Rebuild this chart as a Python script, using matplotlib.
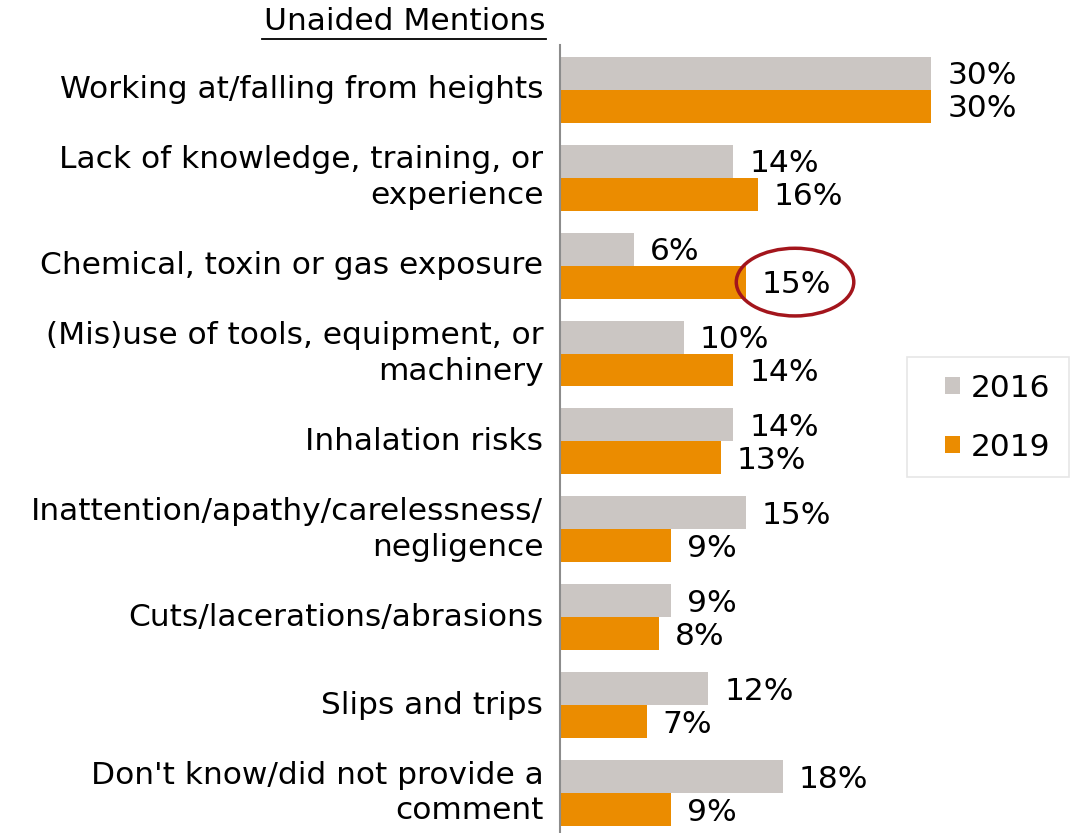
import matplotlib.pyplot as plt
import numpy as np
from matplotlib.patches import Ellipse, Rectangle
from matplotlib.lines import Line2D

categories = [
    "Working at/falling from heights",
    "Lack of knowledge, training, or\nexperience",
    "Chemical, toxin or gas exposure",
    "(Mis)use of tools, equipment, or\nmachinery",
    "Inhalation risks",
    "Inattention/apathy/carelessness/\nnegligence",
    "Cuts/lacerations/abrasions",
    "Slips and trips",
    "Don't know/did not provide a\ncomment",
]
vals_2016 = [30, 14, 6, 10, 14, 15, 9, 12, 18]
vals_2019 = [30, 16, 15, 14, 13, 9, 8, 7, 9]

gray = "#CBC6C3"
orange = "#EB8C00"
fs = 22.5

plt.rcParams["font.family"] = ["DejaVu Sans"]

fig = plt.figure(figsize=(10.7, 8.33), dpi=100)
ax = fig.add_axes([560 / 1070, 0, 510 / 1070, 1 - 45 / 833])

y = np.arange(len(categories))
h = 0.375
b1 = ax.barh(y - h / 2, vals_2016, height=h, color=gray, label="2016")
b2 = ax.barh(y + h / 2, vals_2019, height=h, color=orange, label="2019")

for bars in (b1, b2):
    for rect in bars:
        w = rect.get_width()
        ax.text(w + 1.3, rect.get_y() + rect.get_height() / 2 + 0.03, f"{w:.0f}%",
                va="center", ha="left", fontsize=fs)

# highlight circle around chemical 2019 value
ax.add_patch(Ellipse((vals_2019[2] + 4.0, y[2] + h / 2), 9.5, 0.77,
                     fill=False, edgecolor="#A3151C", linewidth=2.5, clip_on=False))

ax.set_xlim(0, 510 / 12.37)
ax.set_ylim(8.455, -0.51)
ax.set_yticks(y)
ax.set_yticklabels(categories, fontsize=fs, linespacing=1.3)
for t in ax.get_yticklabels():
    t.set_va("center")
ax.set_xticks([])
ax.tick_params(axis="y", length=0, pad=12)
for s in ("top", "right", "bottom"):
    ax.spines[s].set_visible(False)
ax.spines["left"].set_color("#8C8C8C")
ax.spines["left"].set_linewidth(1.5)

# legend without its own frame, box drawn separately (wider side padding)
leg = ax.legend(loc="center left", bbox_to_anchor=(385 / 510, 0.527),
                fontsize=fs, frameon=False,
                handlelength=0.48, handleheight=0.48, handletextpad=0.35,
                labelspacing=0.95, borderpad=0, borderaxespad=0)
fig.add_artist(Rectangle((907 / 1070, 1 - 477 / 833), 162 / 1070, 120 / 833,
                         transform=fig.transFigure, fill=False,
                         edgecolor="#E6E6E6", linewidth=1.2))

fig.text(546 / 1070, 1 - 22 / 833, "Unaided Mentions", ha="right", va="center", fontsize=fs)
fig.add_artist(Line2D([262 / 1070, 546 / 1070], [1 - 39 / 833, 1 - 39 / 833],
                      color="black", linewidth=1.3))

fig.savefig("out.png", dpi=100)
